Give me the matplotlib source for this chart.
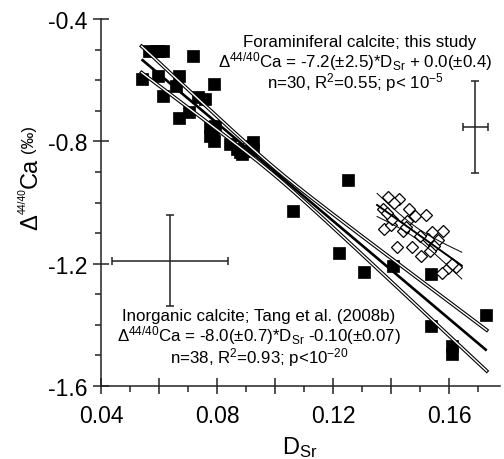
import numpy as np
import matplotlib
matplotlib.use("Agg")
import matplotlib.pyplot as plt
from matplotlib.ticker import FixedLocator, FuncFormatter
import matplotlib.patheffects as pe

plt.rcParams['font.family'] = ['Liberation Sans', 'DejaVu Sans']
plt.rcParams['mathtext.fontset'] = 'custom'
plt.rcParams['mathtext.rm'] = 'Liberation Sans'
plt.rcParams['mathtext.it'] = 'Liberation Sans:italic'
plt.rcParams['mathtext.bf'] = 'Liberation Sans:bold'
plt.rcParams['mathtext.sf'] = 'Liberation Sans'

# Inorganic calcite (Tang et al. 2008b) - filled squares
inorg_dsr = [0.0566, 0.0590, 0.0614, 0.0600, 0.0716, 0.0542, 0.0598, 0.0670, 0.0659,
             0.0613, 0.0790, 0.0736, 0.0759, 0.0704, 0.0670, 0.0776, 0.0793, 0.0776,
             0.0790, 0.0785, 0.0845, 0.0868, 0.0885, 0.0880, 0.0925, 0.0925, 0.0908,
             0.0920, 0.1063, 0.1253, 0.1221, 0.1308, 0.1406, 0.1537, 0.1727, 0.1537,
             0.1610, 0.1610]
inorg_d44 = [-0.503, -0.503, -0.503, -0.503, -0.522, -0.596, -0.585, -0.585, -0.618,
             -0.653, -0.613, -0.656, -0.662, -0.703, -0.725, -0.754, -0.749, -0.782,
             -0.798, -0.770, -0.809, -0.825, -0.841, -0.835, -0.803, -0.825, -0.831,
             -0.815, -1.027, -0.925, -1.165, -1.226, -1.207, -1.235, -1.368, -1.403,
             -1.468, -1.497]

# Foraminiferal calcite (this study) - open diamonds
foram_dsr = [0.1390, 0.1428, 0.1372, 0.1462, 0.1483, 0.1521, 0.1376, 0.1400, 0.1441,
             0.1541, 0.1579, 0.1421, 0.1472, 0.1503, 0.1562, 0.1528, 0.1624, 0.1597,
             0.1576, 0.1403, 0.1548, 0.1410, 0.1385, 0.1455, 0.1500, 0.1535, 0.1610,
             0.1450]
foram_d44 = [-0.982, -0.987, -1.021, -1.021, -1.044, -1.041, -1.087, -1.074, -1.093,
             -1.097, -1.093, -1.146, -1.147, -1.175, -1.124, -1.119, -1.211, -1.214,
             -1.231, -1.054, -1.142, -1.000, -1.035, -1.060, -1.110, -1.160, -1.200,
             -1.080]

# Inorganic regression (from the printed equation) and its confidence band
inorg_slope, inorg_intercept = -8.0, -0.10
inorg_xrange = [0.054, 0.173]
band_x0, band_h0, band_k = 0.100, 0.012, 0.90

# Typical error bars (x, y, xerr, yerr)
err_x = [0.0638, 0.1690]
err_y = [-1.190, -0.754]
err_xe = [0.0200, 0.0043]
err_ye = [0.150, 0.151]

W, H = 504, 460
fig = plt.figure(figsize=(W/100, H/100), dpi=100)
ax = fig.add_axes([101/W, 73/H, 399/W, 367/H])
ax.set_xlim(0.04, 0.04 + 399/2900)
ax.set_ylim(-1.6, -0.4)

for s in ['top', 'right']:
    ax.spines[s].set_visible(False)
for s in ['left', 'bottom']:
    ax.spines[s].set_linewidth(1.1)
    ax.spines[s].set_color('#222222')

# regression lines
xl = np.linspace(inorg_xrange[0], inorg_xrange[1], 200)
yl = inorg_slope * xl + inorg_intercept
hw = np.sqrt(band_h0**2 + (band_k * (xl - band_x0))**2)
hollow = [pe.Stroke(linewidth=2.6, foreground='black'), pe.Stroke(linewidth=1.0, foreground='white')]
for sign in (1, -1):
    ax.plot(xl, yl + sign * hw, color='white', lw=1.0, zorder=4, path_effects=hollow)
ax.plot(xl, yl, color='black', lw=1.9, zorder=5, solid_capstyle='butt')

ax.plot(inorg_dsr, inorg_d44, ls='none', marker='s', ms=9.3, mfc='black', mec='black', mew=0.5, zorder=3)
ax.plot(foram_dsr, foram_d44, ls='none', marker='D', ms=6.6, mfc='white', mec='black', mew=0.9, zorder=3)

# foram fit + confidence band
fx = np.array(foram_dsr); fy = np.array(foram_d44)
b, a = np.polyfit(fx, fy, 1)
n = len(fx)
res = fy - (a + b * fx)
s_e = np.sqrt(np.sum(res**2) / (n - 2))
sxx = np.sum((fx - fx.mean())**2)
xf = np.linspace(fx.min() - 0.002, fx.max() + 0.002, 100)
yf = a + b * xf
hf = 2.05 * s_e * np.sqrt(1/n + (xf - fx.mean())**2 / sxx)
ax.plot(xf, yf, color='black', lw=1.4, zorder=5)
ax.plot(xf, yf + hf, color='black', lw=0.7, zorder=5)
ax.plot(xf, yf - hf, color='black', lw=0.7, zorder=5)

# error bars
ax.errorbar(err_x, err_y, xerr=err_xe, yerr=err_ye, fmt='none', ecolor='#222222',
            elinewidth=1.1, capsize=3, capthick=1.1, zorder=6)

# ticks
ax.xaxis.set_major_locator(FixedLocator([0.04, 0.06, 0.08, 0.10, 0.12, 0.14, 0.16]))
ax.xaxis.set_minor_locator(FixedLocator([0.05, 0.07, 0.09, 0.11, 0.13, 0.15, 0.17]))
ax.xaxis.set_major_formatter(FuncFormatter(
    lambda v, p: ('%.2f' % v) if abs(round(v / 0.04) * 0.04 - v) < 1e-6 else ''))
ax.yaxis.set_major_locator(FixedLocator([-1.6, -1.2, -0.8, -0.4]))
ax.yaxis.set_minor_locator(FixedLocator([-1.5, -1.4, -1.3, -1.1, -1.0, -0.9, -0.7, -0.6, -0.5]))
ax.yaxis.set_major_formatter(FuncFormatter(lambda v, p: '%.1f' % v))
ax.tick_params(which='major', direction='inout', length=11, width=1.1, labelsize=16.5, color='#222222')
ax.tick_params(axis='x', which='major', pad=7.5)
ax.tick_params(axis='y', which='major', pad=4.5)
ax.tick_params(which='minor', direction='out', length=4.3, width=1.1, color='#222222')

# x axis label
fig.text(300/W, 1 - 454/H, r'D$_{\mathregular{Sr}}$', fontsize=17, ha='center', va='baseline')

# y axis label, built from pieces along a rotated baseline
renderer = fig.canvas.get_renderer()
ylab_pieces = [  # text, size, baseline x (px), extra shift up before piece (px)
    ('\u0394', 17, 37, 0),
    ('44/40', 7.5, 26, 0),
    ('Ca', 17, 37, 0),
    ('(\u2030)', 12, 33, 5),
]
ycur = 230.0
for txt, size, xb, gap in ylab_pieces:
    ycur -= gap
    t = fig.text(xb/W, 1 - ycur/H, txt, fontsize=size, rotation=90, rotation_mode='anchor',
                 ha='left', va='baseline')
    bb = t.get_window_extent(renderer=renderer)
    ycur -= bb.height

# annotations
fs = 12.2
tx1 = 355/W
fig.text(tx1 + 5/W, 1 - 47/H, 'Foraminiferal calcite; this study', fontsize=fs, ha='center', va='baseline')
fig.text(tx1, 1 - 67/H, r'$\mathregular{\Delta^{44/40}}$Ca = -7.2(±2.5)*D$_{\mathregular{Sr}}$ + 0.0(±0.4)',
         fontsize=fs, ha='center', va='baseline')
fig.text(tx1, 1 - 88/H, r'n=30, R$^{\mathregular{2}}$=0.55; p< 10$^{\mathregular{-5}}$', fontsize=fs,
         ha='center', va='baseline')
tx2 = 259/W
fig.text(tx2, 1 - 321/H, 'Inorganic calcite; Tang et al. (2008b)', fontsize=fs, ha='center', va='baseline')
fig.text(tx2, 1 - 341/H, r'$\mathregular{\Delta^{44/40}}$Ca = -8.0(±0.7)*D$_{\mathregular{Sr}}$ -0.10(±0.07)',
         fontsize=fs, ha='center', va='baseline')
fig.text(tx2, 1 - 363/H, r'n=38, R$^{\mathregular{2}}$=0.93; p<10$^{\mathregular{-20}}$', fontsize=fs,
         ha='center', va='baseline')

fig.savefig('out.png', dpi=100)
